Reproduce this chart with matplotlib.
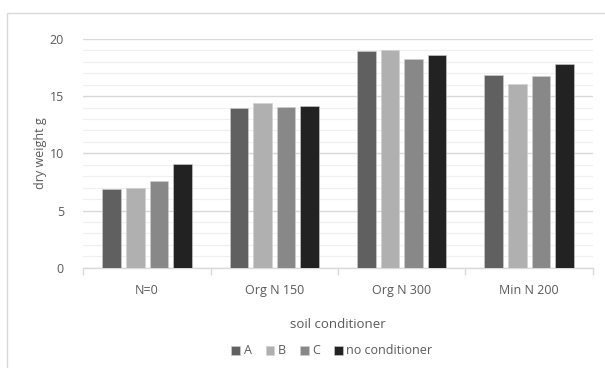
import matplotlib
matplotlib.use("Agg")
import matplotlib.pyplot as plt
import numpy as np
from matplotlib.patches import Rectangle

categories = ["N=0", "Org N 150", "Org N 300", "Min N 200"]
series_names = ["A", "B", "C", "no conditioner"]
A = [6.85, 14.0, 18.98, 16.85]
B = [7.0, 14.37, 19.04, 16.1]
C = [7.55, 14.05, 18.28, 16.73]
NC = [9.04, 14.1, 18.57, 17.78]
yticks = [0, 5, 10, 15, 20]

colors = ["#606060", "#b0b0b0", "#888888", "#222222"]
text_color = "#595959"
plt.rcParams['font.family'] = ['Open Sans', 'DejaVu Sans']

fig = plt.figure(figsize=(6.05, 3.68), dpi=100)
fig.patches.append(Rectangle((7/605, -0.1), 1.2, 1 - 13/368 + 0.1, transform=fig.transFigure,
                             fill=False, edgecolor="#d9d9d9", linewidth=1.0))
ax = fig.add_axes([83.4/605, 1 - 267.7/368, (592.7 - 83.4)/605, (267.7 - 39)/368])

x = np.arange(len(categories)) + 0.5
stride = 0.185
width = 0.146
for i, (name, vals) in enumerate(zip(series_names, [A, B, C, NC])):
    ax.bar(x + (i - 1.5) * stride, vals, width=width, color=colors[i], label=name,
           edgecolor="#d0d0d0", linewidth=0.4, zorder=3)

ax.set_xlim(0, 4)
ax.set_ylim(0, 20)
ax.set_yticks(yticks)
ax.set_yticks(np.arange(0, 21, 1), minor=True)
ax.yaxis.grid(True, which="major", color="#d9d9d9", linewidth=1.0, zorder=0)
ax.yaxis.grid(True, which="minor", color="#f0f0f0", linewidth=0.9, zorder=0)
ax.set_axisbelow(True)
for s in ["top", "right", "left"]:
    ax.spines[s].set_visible(False)
ax.spines["bottom"].set_color("#d9d9d9")
ax.spines["bottom"].set_linewidth(1.0)

ax.set_xticks([0, 1, 2, 3, 4])
ax.set_xticklabels([])
ax.set_xticks(x, minor=True)
ax.set_xticklabels(categories, minor=True)
ax.tick_params(axis="x", which="major", length=5, color="#d9d9d9", width=1.0)
ax.tick_params(axis="x", which="minor", length=0, pad=12, labelsize=9, labelcolor=text_color)
ax.tick_params(axis="y", which="both", length=0, pad=14, labelsize=9, labelcolor=text_color)

ax.set_ylabel("dry weight g", fontsize=9, color=text_color, labelpad=2)
ax.set_xlabel("soil conditioner", fontsize=9.5, color=text_color, labelpad=15)

leg = fig.legend(loc="center", bbox_to_anchor=(332/605, 1 - 351/368), ncol=4, frameon=False,
                 fontsize=9, handlelength=0.7, handleheight=0.7, handletextpad=0.3,
                 columnspacing=1.1, labelcolor=text_color)

fig.savefig("out.png", dpi=100)
